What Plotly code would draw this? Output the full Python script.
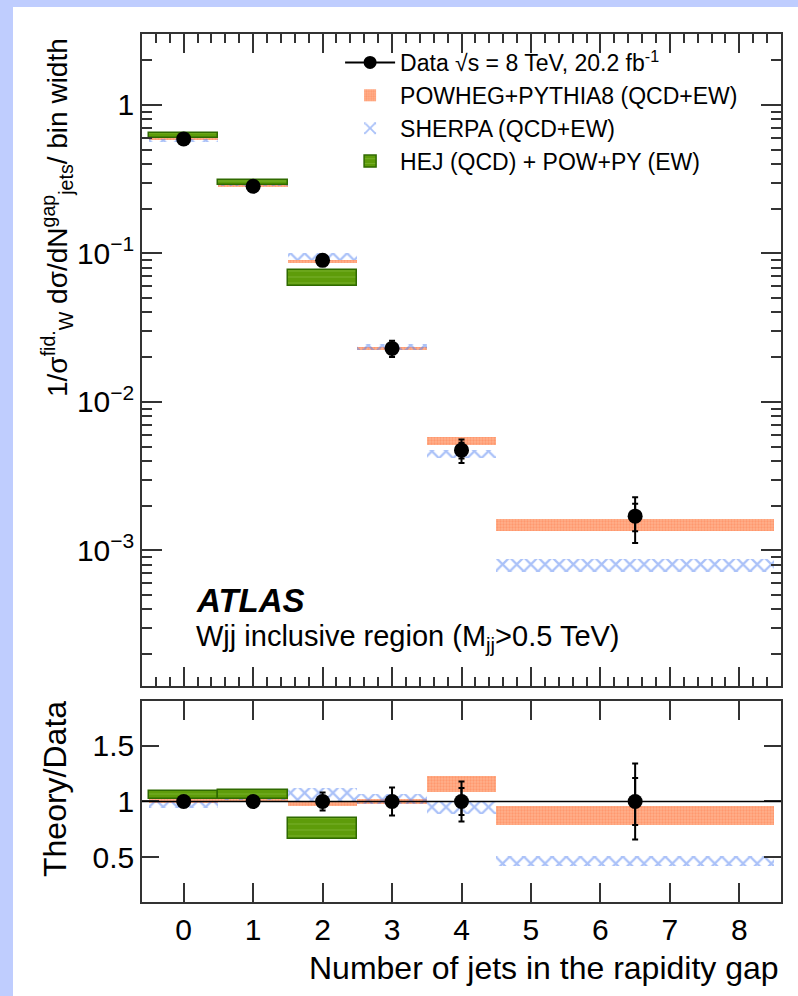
import numpy as np
import plotly.graph_objects as go

# Bins in the number of jets in the rapidity gap (last bin is 5-8 jets)
bin_lo = [-0.5, 0.5, 1.5, 2.5, 3.5, 4.5]
bin_hi = [0.5, 1.5, 2.5, 3.5, 4.5, 8.5]
data_x = [0, 1, 2, 3, 4, 6.5]

# Unfolded data: normalised cross-section per bin width
data_val = [0.590, 0.283, 0.0897, 0.0229, 0.00473, 0.00170]
data_rel_tot = [0.03, 0.03, 0.08, 0.125, 0.18, 0.34]
data_rel_stat = [0.01, 0.01, 0.03, 0.05, 0.12, 0.21]

# Theory predictions: lower and upper edge of each uncertainty band
powheg_lo = [0.584, 0.283, 0.0861, 0.02233, 0.00513, 0.00134]
powheg_hi = [0.602, 0.291, 0.0897, 0.02336, 0.00582, 0.00163]
sherpa_lo = [0.558, 0.2858, 0.0901, 0.02235, 0.00419, 0.000714]
sherpa_hi = [0.590, 0.3056, 0.1009, 0.0245, 0.00471, 0.000876]
hej_lo = [0.602, 0.2887, 0.0599]
hej_hi = [0.643, 0.3113, 0.0768]

FONT = "Liberation Sans, Arial, Helvetica, sans-serif"

centers = [(a + b) / 2 for a, b in zip(bin_lo, bin_hi)]
widths = [b - a for a, b in zip(bin_lo, bin_hi)]
dv = np.array(data_val)

fig = go.Figure()


def band(lo, hi, yaxis, name, style, show, rank):
    n = len(lo)
    lo = np.array(lo)
    hi = np.array(hi)
    if yaxis == "y2":
        lo = lo / dv[:n]
        hi = hi / dv[:n]
    fig.add_trace(go.Bar(
        x=centers[:n], y=hi - lo, base=lo, width=widths[:n],
        xaxis="x" if yaxis == "y" else "x2", yaxis=yaxis,
        name=name, showlegend=show, legendgroup=name, legendrank=rank,
        hoverinfo="skip", **style))


powheg_style = dict(marker=dict(
    color="#FFB08C", line=dict(width=0),
    pattern=dict(shape=".", fgcolor="#FF8050", size=3, solidity=0.45,
                 fillmode="overlay")))
sherpa_style = dict(marker=dict(
    color="rgba(255,255,255,0)", line=dict(width=0),
    pattern=dict(shape="x", fgcolor="#5584F2", size=10, solidity=0.4,
                 fillmode="overlay")))
hej_style = dict(marker=dict(
    color="#5E9C0A", line=dict(width=1.5, color="#2F6A00"),
    pattern=dict(shape="-", fgcolor="#A6D46A", size=6, solidity=0.12,
                 fillmode="overlay")))

for ax, show in (("y", True), ("y2", False)):
    band(powheg_lo, powheg_hi, ax, "POWHEG+PYTHIA8 (QCD+EW)", powheg_style, show, 2)
    band(sherpa_lo, sherpa_hi, ax, "SHERPA (QCD+EW)", sherpa_style, show, 3)
    band(hej_lo, hej_hi, ax, "HEJ (QCD) + POW+PY (EW)", hej_style, show, 4)

# Data points: total (outer) and statistical (inner) uncertainties
tot = np.array(data_rel_tot)
stat = np.array(data_rel_stat)
for ax, yv in (("y", dv), ("y2", np.ones_like(dv))):
    xa = "x" if ax == "y" else "x2"
    fig.add_trace(go.Scatter(
        x=data_x, y=yv, mode="markers", xaxis=xa, yaxis=ax,
        marker=dict(color="black", size=15), showlegend=False,
        error_y=dict(type="data", array=yv * tot, thickness=2,
                     width=3, color="black"), hoverinfo="skip"))
    fig.add_trace(go.Scatter(
        x=data_x, y=yv, mode="markers", xaxis=xa, yaxis=ax,
        marker=dict(color="black", size=1), showlegend=False,
        error_y=dict(type="data", array=yv * stat, thickness=2,
                     width=3, color="black"), hoverinfo="skip"))

# Legend entry for the data
fig.add_trace(go.Scatter(
    x=[None], y=[None], mode="lines+markers", xaxis="x", yaxis="y",
    name="Data \u221As = 8 TeV, 20.2 fb<sup>-1</sup>",
    line=dict(color="black", width=2), marker=dict(color="black", size=13),
    legendrank=1))

minor_log = [k * 10.0 ** e for e in range(-4, 1) for k in range(2, 10)]
minor_log = [v for v in minor_log if 1.2e-4 < v < 3.0]

axis_common = dict(showline=True, linecolor="#333", linewidth=1.5,
                   mirror="ticks", ticks="inside", tickcolor="#333",
                   tickwidth=1.5, showgrid=False, zeroline=False,
                   tickfont=dict(family=FONT, size=30, color="black"))

fig.update_layout(
    width=798, height=996,
    margin=dict(l=142, r=17, t=34, b=94),
    paper_bgcolor="#BFCDFE", plot_bgcolor="white",
    barmode="overlay", bargap=0,
    font=dict(family=FONT, color="black"),
    xaxis=dict(domain=[0, 1], anchor="y", range=[-0.6, 8.6],
               tickvals=list(range(9)), ticklen=19, showticklabels=False,
               minor=dict(dtick=0.2, ticklen=9, ticks="inside",
                          tickcolor="#333", tickwidth=1.5),
               **axis_common),
    yaxis=dict(domain=[0.2488, 1], anchor="x", type="log",
               range=[np.log10(1.22e-4), np.log10(3.0)],
               tickvals=[1e-3, 1e-2, 1e-1, 1],
               ticktext=["10<sup>\u22123</sup>", "10<sup>\u22122</sup>",
                         "10<sup>\u22121</sup>", "1"],
               ticklen=20,
               minor=dict(tickvals=minor_log, ticklen=10, ticks="inside",
                          tickcolor="#333", tickwidth=1.5),
               **axis_common),
    xaxis2=dict(domain=[0, 1], anchor="y2", range=[-0.6, 8.6],
                tickvals=list(range(9)), ticklen=19, matches="x",
                **axis_common),
    yaxis2=dict(domain=[0, 0.2316], anchor="x2", range=[0.1, 1.9],
                tickvals=[0.5, 1, 1.5], ticktext=["0.5", "1", "1.5"],
                ticklen=17, **axis_common),
    legend=dict(x=0.31, y=0.992, xanchor="left", yanchor="top",
                bgcolor="rgba(0,0,0,0)", font=dict(family=FONT, size=23),
                traceorder="normal", itemwidth=50, tracegroupgap=0),
    shapes=[
        dict(type="rect", xref="paper", yref="paper", layer="below",
             x0=(13 - 142) / 639, x1=(800 - 142) / 639,
             y0=1 - (1000 - 34) / 868, y1=1 - (7 - 34) / 868,
             fillcolor="white", line=dict(width=0)),
        dict(type="line", xref="x2 domain", yref="y2", x0=0, x1=1,
             y0=1, y1=1, line=dict(color="black", width=1.5)),
    ],
    annotations=[
        dict(text="<b><i>ATLAS</i></b>", xref="paper", yref="paper",
             x=(194 - 142) / 639, y=1 - (600 - 34) / 868,
             xanchor="left", yanchor="middle", showarrow=False,
             font=dict(family=FONT, size=33)),
        dict(text="Wjj inclusive region (M<sub>jj</sub>>0.5 TeV)",
             xref="paper", yref="paper",
             x=(194 - 142) / 639, y=1 - (638 - 34) / 868,
             xanchor="left", yanchor="middle", showarrow=False,
             font=dict(family=FONT, size=29)),
        dict(text="1/\u03c3<sup>fid.</sup><sub>W</sub> d\u03c3/dN<sup>gap</sup><sub>jets</sub>/ bin width",
             xref="paper", yref="paper", textangle=-90,
             x=(57 - 142) / 639, y=1 - (218 - 34) / 868,
             xanchor="center", yanchor="middle", showarrow=False,
             font=dict(family=FONT, size=28)),
        dict(text="Theory/Data", xref="paper", yref="paper", textangle=-90,
             x=(55 - 142) / 639, y=1 - (789 - 34) / 868,
             xanchor="center", yanchor="middle", showarrow=False,
             font=dict(family=FONT, size=32)),
        dict(text="Number of jets in the rapidity gap", xref="paper",
             yref="paper", x=1, y=1 - (968 - 34) / 868,
             xanchor="right", yanchor="middle", showarrow=False,
             font=dict(family=FONT, size=32)),
    ],
)

fig.write_html("out.html")
